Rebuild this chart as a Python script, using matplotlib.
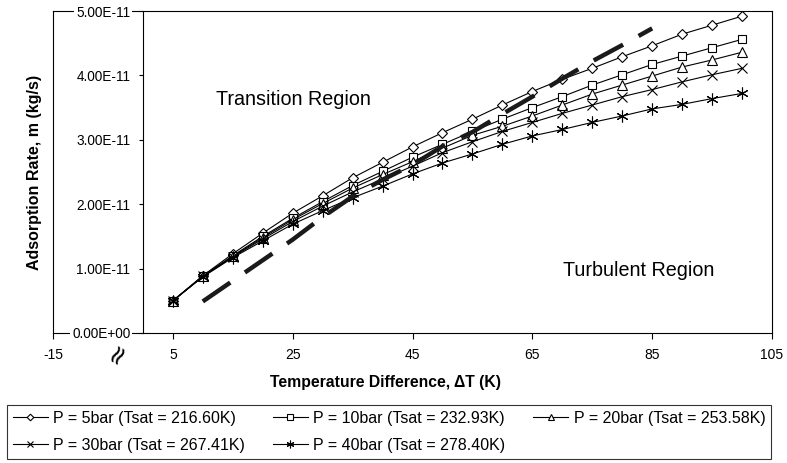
import matplotlib
matplotlib.use("Agg")
import matplotlib.pyplot as plt

plt.rcParams['font.family'] = ['Liberation Sans', 'DejaVu Sans']

# ---- data (rates in kg/s, units of 1e-11) ----
dT = [5, 10, 15, 20, 25, 30, 35, 40, 45, 50, 55, 60, 65, 70, 75, 80, 85, 90, 95, 100]
p5 = [0.50, 0.89, 1.23, 1.55, 1.86, 2.13, 2.41, 2.65, 2.89, 3.11, 3.32, 3.54, 3.75, 3.94, 4.11, 4.29, 4.46, 4.64, 4.78, 4.92]
p10 = [0.50, 0.88, 1.20, 1.50, 1.78, 2.04, 2.29, 2.51, 2.73, 2.93, 3.13, 3.32, 3.50, 3.67, 3.85, 4.01, 4.17, 4.30, 4.43, 4.56]
p20 = [0.50, 0.88, 1.19, 1.48, 1.76, 2.01, 2.25, 2.46, 2.66, 2.87, 3.07, 3.21, 3.37, 3.54, 3.71, 3.85, 3.99, 4.13, 4.24, 4.36]
p30 = [0.50, 0.88, 1.18, 1.46, 1.73, 1.97, 2.19, 2.39, 2.59, 2.80, 2.97, 3.13, 3.27, 3.41, 3.54, 3.67, 3.78, 3.90, 4.01, 4.11]
p40 = [0.50, 0.87, 1.17, 1.43, 1.69, 1.90, 2.10, 2.28, 2.47, 2.64, 2.78, 2.93, 3.06, 3.16, 3.27, 3.37, 3.48, 3.55, 3.64, 3.72]
boundary_dT = [10, 15, 20, 25, 30, 35, 40, 45, 50, 55, 60, 65, 70, 75, 80, 85]
boundary = [0.49, 0.81, 1.13, 1.45, 1.80, 2.12, 2.38, 2.61, 2.90, 3.12, 3.40, 3.67, 3.95, 4.22, 4.47, 4.73]
scale = 1e-11

labels = ["P = 5bar (Tsat = 216.60K)", "P = 10bar (Tsat = 232.93K)",
          "P = 20bar (Tsat = 253.58K)", "P = 30bar (Tsat = 267.41K)",
          "P = 40bar (Tsat = 278.40K)"]
xtick_vals = [-15, 5, 25, 45, 65, 85, 105]
ytick_vals = [0, 1, 2, 3, 4, 5]

W, H = 787, 463
fig = plt.figure(figsize=(W / 100, H / 100), dpi=100)
ax = fig.add_axes([53 / W, 1 - 333 / H, (772 - 53) / W, (333 - 11) / H])
ax.set_xlim(-15, 105)
ax.set_ylim(0, 5 * scale)

markers = ['D', 's', '^', 'x', (6, 2, 0)]
msizes = [5.2, 5.8, 6.8, 7.5, 8.5]
series = [p5, p10, p20, p30, p40]
handles = []
for vals, m, ms, lab in zip(series, markers, msizes, labels):
    filled = m in ('x',) or isinstance(m, tuple)
    h, = ax.plot(dT, [v * scale for v in vals], color='black', lw=0.8,
                 marker=m, markersize=ms, markerfacecolor='white' if not filled else 'black',
                 markeredgecolor='black', markeredgewidth=0.8, label=lab, zorder=3)
    handles.append(h)

ax.plot(boundary_dT, [v * scale for v in boundary], color='#1a1a1a', lw=3.2,
        dashes=(7.5, 4), solid_capstyle='butt', dash_capstyle='butt', zorder=4)

# spines / axes structure
for s in ax.spines.values():
    s.set_linewidth(0.8)
ax.spines['left'].set_position(('data', 0))
ax.spines['top'].set_zorder(1)
ax.spines['bottom'].set_zorder(1)
ax.plot([-15, -15], [0, 5 * scale], color='black', lw=0.8, clip_on=False, zorder=1)

ax.set_yticks([v * scale for v in ytick_vals])
ax.set_yticklabels(['{:.2E}'.format(v * scale) for v in ytick_vals], fontsize=9.8)
ax.tick_params(axis='y', direction='out', length=3, width=0.8, pad=6)
for t in ax.get_yticklabels():
    t.set_bbox(dict(facecolor='white', edgecolor='none', pad=1.5))

ax.set_xticks(xtick_vals)
ax.set_xticklabels([str(v) for v in xtick_vals], fontsize=10)
ax.tick_params(axis='x', direction='out', length=4, width=0.8, pad=7)

# axis break mark
ax.text(-4.2, -0.065, '\u2248', transform=ax.get_xaxis_transform(), rotation=60,
        ha='center', va='center', fontsize=19, family='DejaVu Sans')

# region labels
ax.text(25.1, 3.63 * scale, 'Transition Region', fontsize=14.2, ha='center', va='center')
ax.text(82.7, 0.97 * scale, 'Turbulent Region', fontsize=14.2, ha='center', va='center')

# axis titles
fig.text(35 / W, 1 - 172 / H, 'Adsorption Rate, m (kg/s)', rotation=90, fontsize=11.5,
         fontweight='bold', ha='center', va='center')
fig.text(385 / W, 1 - 382 / H, 'Temperature Difference, \u0394T (K)', fontsize=11.3,
         fontweight='bold', ha='center', va='center')

# legend (row-major ordering)
order = [0, 3, 1, 4, 2]
leg = fig.legend([handles[i] for i in order], [labels[i] for i in order], ncol=3,
                 loc='center', bbox_to_anchor=(7 / W, 1 - 460 / H, 764 / W, 56 / H),
                 mode='expand', borderaxespad=0, fontsize=11.5, frameon=True,
                 fancybox=False, edgecolor='black', handlelength=2.2,
                 handletextpad=0.35, labelspacing=0.75, markerscale=0.65,
                 borderpad=0.35)
leg.get_frame().set_linewidth(0.8)

fig.savefig('out.png', dpi=100)
